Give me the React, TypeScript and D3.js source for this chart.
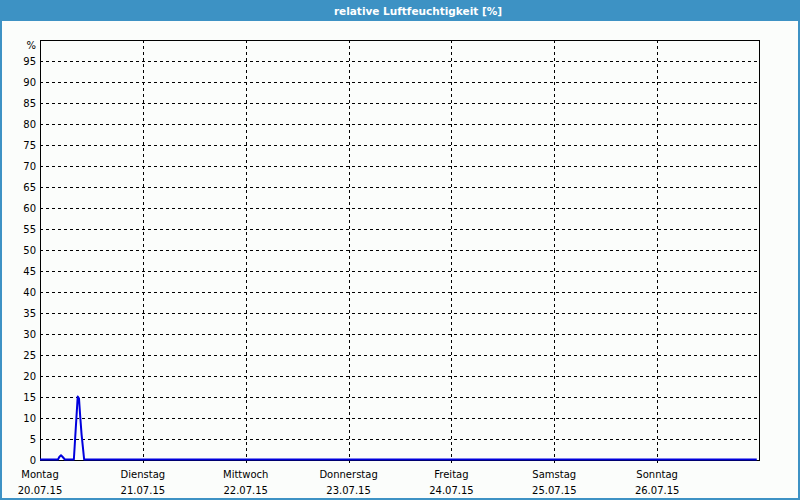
import React from "react";
import * as d3 from "d3";

const dayNames = ["Montag", "Dienstag", "Mittwoch", "Donnerstag", "Freitag", "Samstag", "Sonntag"];
const dayDates = ["20.07.15", "21.07.15", "22.07.15", "23.07.15", "24.07.15", "25.07.15", "26.07.15"];
const yTicks = [0, 5, 10, 15, 20, 25, 30, 35, 40, 45, 50, 55, 60, 65, 70, 75, 80, 85, 90, 95];
const hoursSinceStart = [0, 4.2, 4.5, 4.9, 5.3, 5.8, 7.9, 8.2, 8.5, 8.8, 9.1, 9.4, 9.7, 10.0, 10.3, 167.25];
const humidity = [0, 0, 0.6, 1, 0.6, 0, 0, 5, 10, 15, 14.5, 10, 6, 3, 0, 0];

const W = 800;
const H = 500;
const L = 40, T = 40, R = 760, B = 460;
const FONT = "'DejaVu Sans', sans-serif";

export default function App() {
  const x = d3.scaleLinear().domain([0, 168]).range([L, R]);
  const y = d3.scaleLinear().domain([0, 100]).range([B, T]);
  const pts = hoursSinceStart.map((h, i) => [h, humidity[i]] as [number, number]);
  const line = d3.line<[number, number]>().x(d => x(d[0])).y(d => y(d[1]) - 0.5);
  const days = d3.range(7);
  return (
    <svg width={W} height={H} style={{ position: "absolute", left: 0, top: 0, display: "block" }}>
      <rect x={0} y={0} width={W} height={H} fill="#3d92c4" />
      <rect x={2} y={21} width={W - 4} height={H - 23} fill="#fbfdfb" />
      <text x={418} y={15} fill="#ffffff" fontFamily={FONT} fontSize={10.5} fontWeight="bold" textAnchor="middle">
        relative Luftfeuchtigkeit [%]
      </text>
      {yTicks.filter(v => v > 0).map(v => (
        <line key={"h" + v} x1={L} x2={R} y1={Math.round(y(v)) + 0.5} y2={Math.round(y(v)) + 0.5}
          stroke="#000" strokeWidth={1} strokeDasharray="3,3" />
      ))}
      {days.filter(d => d > 0).map(d => (
        <line key={"v" + d} x1={Math.round(x(d * 24)) + 0.5} x2={Math.round(x(d * 24)) + 0.5} y1={T} y2={B + 3}
          stroke="#000" strokeWidth={1} strokeDasharray="3,3" />
      ))}
      <rect x={L + 0.5} y={T + 0.5} width={R - L - 1} height={B - T} fill="none" stroke="#000" strokeWidth={1} />
      {yTicks.map(v => (
        <text key={"yl" + v} x={36} y={y(v) + 4} fontFamily={FONT} fontSize={10} textAnchor="end" fill="#000">{v}</text>
      ))}
      <text x={36} y={49} fontFamily={FONT} fontSize={10} textAnchor="end" fill="#000">%</text>
      {days.map(d => (
        <g key={"xl" + d}>
          <text x={x(d * 24)} y={478} fontFamily={FONT} fontSize={10} textAnchor="middle" fill="#000">{dayNames[d]}</text>
          <text x={x(d * 24)} y={494} fontFamily={FONT} fontSize={10} textAnchor="middle" fill="#000">{dayDates[d]}</text>
        </g>
      ))}
      <path d={line(pts) || ""} fill="none" stroke="#0000dd" strokeWidth={2} strokeLinejoin="round" />
    </svg>
  );
}
